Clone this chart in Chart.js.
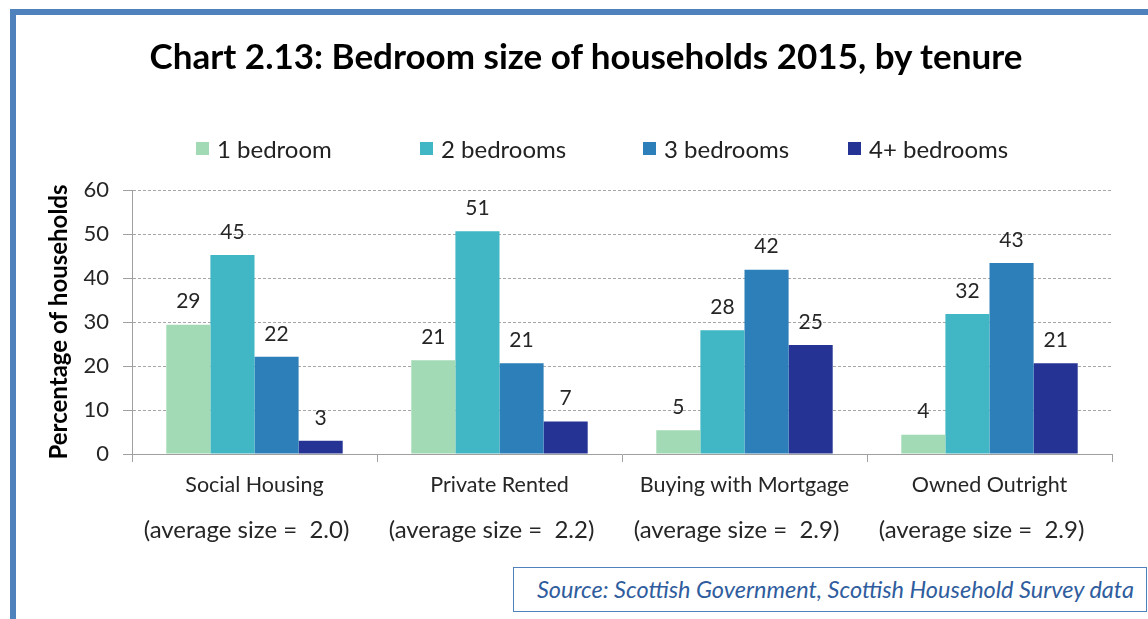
<!DOCTYPE html>
<html lang="en">
<head>
    <meta charset="UTF-8">
    <title>Bedroom size of households 2015, by tenure</title>
    <script src="https://cdn.jsdelivr.net/npm/chart.js@4.4.1/dist/chart.umd.min.js"></script>
    <style>
        html, body {
            margin: 0;
            padding: 0;
            width: 1148px;
            height: 619px;
            overflow: hidden;
            background: #fff;
            font-family: Lato, "Open Sans", sans-serif;
        }
        .frame {
            position: absolute;
            left: 10px;
            top: 9px;
            width: 1300px;
            height: 800px;
            border: 6px solid #4f81bd;
        }
        #chart {
            position: absolute;
            left: 0;
            top: 0;
        }
        h1 {
            position: absolute;
            left: 0;
            top: 34px;
            width: 1172px;
            margin: 0;
            text-align: center;
            font-size: 35px;
            line-height: 42px;
            font-weight: bold;
            color: #000;
        }
        .legend {
            position: absolute;
            left: 196px;
            top: 134px;
            display: flex;
            font-size: 24px;
            color: #222;
        }
        .legend .item {
            display: flex;
            align-items: center;
        }
        .legend .item:nth-child(1) { width: 224px; }
        .legend .item:nth-child(2) { width: 223px; }
        .legend .item:nth-child(3) { width: 205px; }
        .legend .swatch {
            width: 13px;
            height: 13px;
            margin-right: 8px;
        }
        .source {
            position: absolute;
            left: 513px;
            top: 567px;
            width: 620px;
            height: 43px;
            border: 1.5px solid #4f81bd;
            font-style: italic;
            font-size: 23.5px;
            color: #2f5d9e;
            line-height: 43px;
            text-align: right;
            padding-right: 12px;
            background: #fff;
            white-space: nowrap;
        }
    </style>
</head>
<body>
    <div class="frame"></div>
    <canvas id="chart" width="1148" height="619"></canvas>
    <h1>Chart 2.13: Bedroom size of households 2015, by tenure</h1>
    <div class="legend" id="legend"></div>
    <div class="source">Source: Scottish Government, Scottish Household Survey data</div>

    <script>
        // Tenure groups and the average bedroom size shown under each one
        const tenures = ['Social Housing', 'Private Rented', 'Buying with Mortgage', 'Owned Outright'];
        const averageSizes = ['2.0', '2.2', '2.9', '2.9'];

        // Series (percentage of households)
        const seriesNames = ['1 bedroom', '2 bedrooms', '3 bedrooms', '4+ bedrooms'];
        const oneBedroom = [29.4, 21.3, 5.4, 4.4];
        const twoBedrooms = [45.2, 50.6, 28.1, 31.8];
        const threeBedrooms = [22.1, 20.6, 41.9, 43.4];
        const fourPlusBedrooms = [3.0, 7.4, 24.8, 20.6];

        const seriesColors = ['#a1dab4', '#41b6c4', '#2c7fb8', '#253494'];
        const yTicks = [0, 10, 20, 30, 40, 50, 60];

        const FONT = 'Lato, "Open Sans", sans-serif';

        // Draw the value above each bar
        const barLabels = {
            id: 'barLabels',
            afterDatasetsDraw(chart) {
                const ctx = chart.ctx;
                ctx.save();
                ctx.font = '21px ' + FONT;
                ctx.fillStyle = '#262626';
                ctx.textAlign = 'center';
                ctx.textBaseline = 'middle';
                chart.data.datasets.forEach((ds, i) => {
                    chart.getDatasetMeta(i).data.forEach((bar, j) => {
                        ctx.fillText(Math.round(ds.data[j]), bar.x, bar.y - 23);
                    });
                });
                ctx.restore();
            }
        };

        // Second line under each category: the average size
        const averageLine = {
            id: 'averageLine',
            afterDraw(chart) {
                const ctx = chart.ctx;
                const x = chart.scales.x;
                ctx.save();
                ctx.font = '24px ' + FONT;
                ctx.fillStyle = '#262626';
                ctx.textAlign = 'center';
                ctx.textBaseline = 'middle';
                averageSizes.forEach((a, i) => {
                    ctx.fillText('(average size =  ' + a + ')', x.getPixelForTick(i) - 8, 530);
                });
                ctx.restore();
            }
        };

        function createChart() {
            const values = [oneBedroom, twoBedrooms, threeBedrooms, fourPlusBedrooms];

            return new Chart(document.getElementById('chart'), {
                type: 'bar',
                data: {
                    labels: tenures,
                    datasets: seriesNames.map((name, i) => ({
                        label: name,
                        data: values[i],
                        backgroundColor: seriesColors[i],
                        categoryPercentage: 0.72,
                        barPercentage: 1.0
                    }))
                },
                options: {
                    responsive: false,
                    animation: false,
                    layout: {
                        padding: { top: 190, left: 15, right: 36, bottom: 0 }
                    },
                    plugins: {
                        legend: { display: false },
                        tooltip: { enabled: false }
                    },
                    scales: {
                        x: {
                            afterFit: s => { s.height = 165; },
                            grid: {
                                drawOnChartArea: false,
                                drawTicks: true,
                                tickLength: 8,
                                tickColor: '#a0a0a0'
                            },
                            border: { color: '#a0a0a0', width: 1 },
                            ticks: {
                                color: '#262626',
                                font: { family: FONT, size: 21.5 },
                                padding: 10,
                                maxRotation: 0
                            }
                        },
                        y: {
                            min: 0,
                            max: 60,
                            afterFit: s => { s.width = 117; },
                            afterBuildTicks: s => { s.ticks = yTicks.map(v => ({ value: v })); },
                            grid: {
                                color: '#a6a6a6',
                                tickColor: '#a0a0a0',
                                tickLength: 9
                            },
                            border: { color: '#a0a0a0', width: 1, dash: [3, 2] },
                            ticks: {
                                color: '#262626',
                                font: { family: FONT, size: 22 },
                                padding: 14
                            },
                            title: {
                                display: true,
                                text: 'Percentage of households',
                                color: '#000',
                                font: { family: FONT, size: 24, weight: 'bold' },
                                padding: { top: 30, bottom: 0 }
                            }
                        }
                    }
                },
                plugins: [barLabels, averageLine]
            });
        }

        function buildLegend() {
            const legend = document.getElementById('legend');
            seriesNames.forEach((name, i) => {
                const item = document.createElement('div');
                item.className = 'item';
                const sw = document.createElement('span');
                sw.className = 'swatch';
                sw.style.background = seriesColors[i];
                const txt = document.createElement('span');
                txt.textContent = name;
                item.appendChild(sw);
                item.appendChild(txt);
                legend.appendChild(item);
            });
        }

        createChart();
        buildLegend();
    </script>
</body>
</html>
